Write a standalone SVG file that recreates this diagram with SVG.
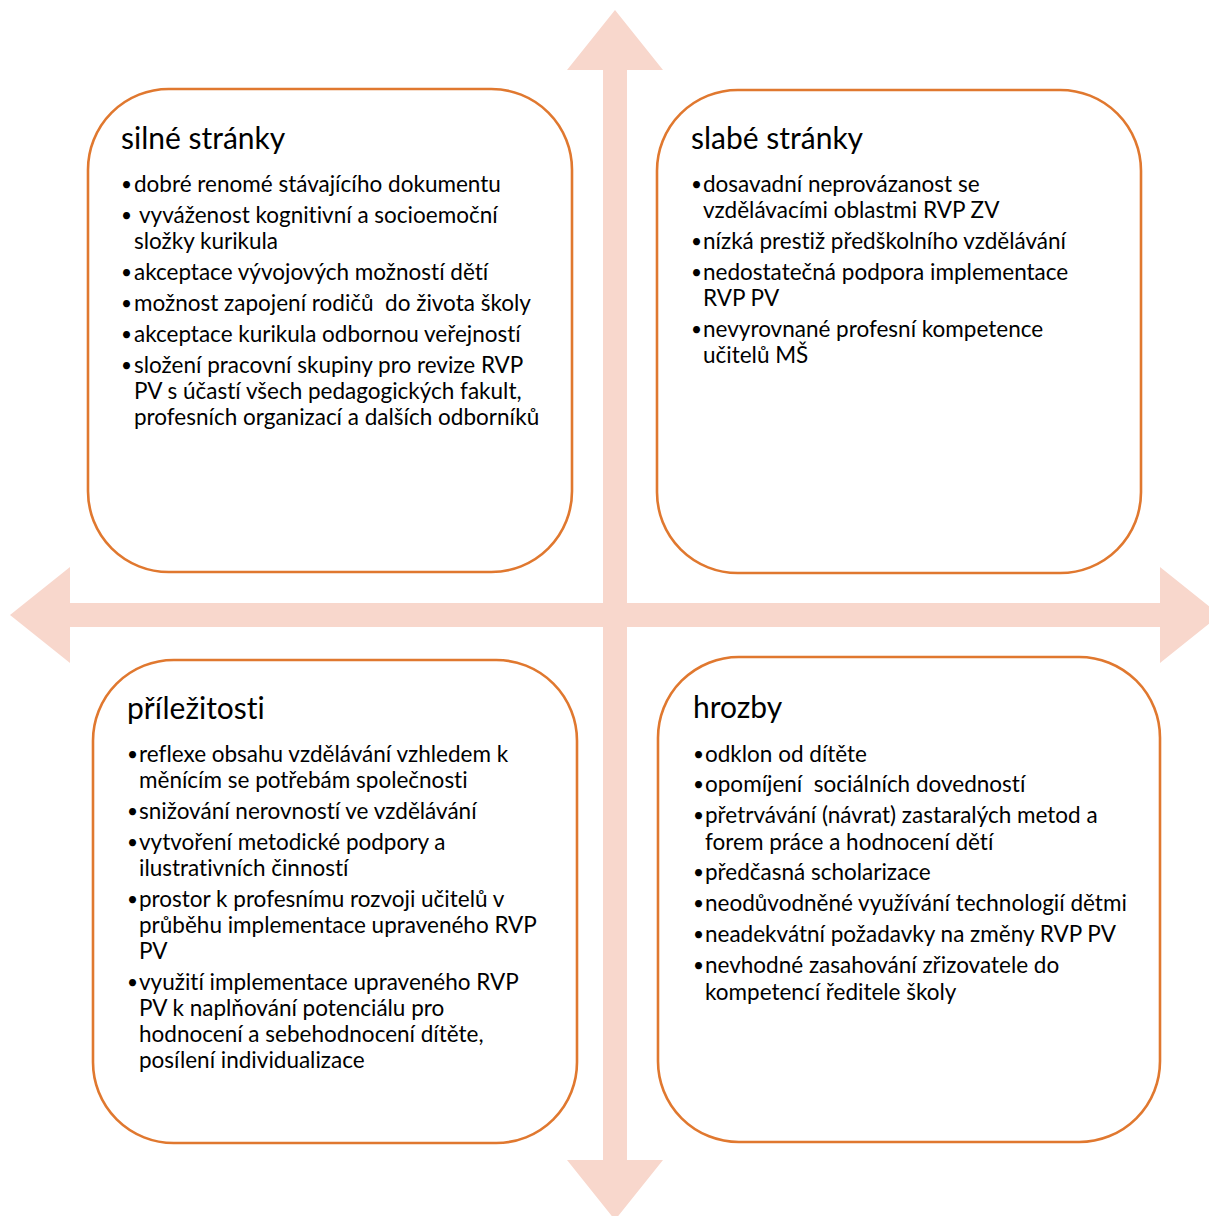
<svg xmlns="http://www.w3.org/2000/svg" width="1209" height="1216" viewBox="0 0 1209 1216">
  <style>
    .box { fill: #ffffff; stroke: #E0782F; stroke-width: 2.6; }
    .axes { fill: #F8D7CC; stroke: none; }
    text { font-family: Lato, "Liberation Sans", sans-serif; fill: #000000; font-variant-ligatures: none; font-feature-settings: "liga" 0, "clig" 0, "dlig" 0; }
    .title { font-size: 30px; }
    .item { font-size: 22.5px; }
    .dot { font-size: 19px; }
  </style>

  <!-- four-way arrow cross behind the quadrants -->
  <g id="axes">
    <polygon class="axes" points="615,10 663,70 627,70 627,603 1160,603 1160,567 1220,615 1160,663 1160,627 627,627 627,1160 663,1160 615,1220 567,1160 603,1160 603,627 70,627 70,663 10,615 70,567 70,603 603,603 603,70 567,70"/>
  </g>

  <!-- strengths -->
  <g id="strengths">
    <rect class="box" x="88" y="89" width="484" height="483" rx="80.7" ry="80.7"/>
    <text class="title" x="121" y="149">silné stránky</text>
    <g class="item">
      <text class="dot" x="121" y="191">•</text><text x="134" y="192">dobré renomé stávajícího dokumentu</text>
      <text class="dot" x="121" y="222">•</text><text x="139" y="223">vyváženost kognitivní a socioemoční</text>
      <text x="134" y="249">složky kurikula</text>
      <text class="dot" x="121" y="279">•</text><text x="134" y="280">akceptace vývojových možností dětí</text>
      <text class="dot" x="121" y="310">•</text><text x="134" y="311" xml:space="preserve">možnost zapojení rodičů  do života školy</text>
      <text class="dot" x="121" y="341">•</text><text x="134" y="342">akceptace kurikula odbornou veřejností</text>
      <text class="dot" x="121" y="372">•</text><text x="134" y="373">složení pracovní skupiny pro revize RVP</text>
      <text x="134" y="399">PV s účastí všech pedagogických fakult,</text>
      <text x="134" y="425">profesních organizací a dalších odborníků</text>
    </g>
  </g>

  <!-- weaknesses -->
  <g id="weaknesses">
    <rect class="box" x="657" y="90" width="484" height="483" rx="80.7" ry="80.7"/>
    <text class="title" x="691" y="149">slabé stránky</text>
    <g class="item">
      <text class="dot" x="691" y="191">•</text><text x="703" y="192">dosavadní neprovázanost se</text>
      <text x="703" y="218">vzdělávacími oblastmi RVP ZV</text>
      <text class="dot" x="691" y="248">•</text><text x="703" y="249">nízká prestiž předškolního vzdělávání</text>
      <text class="dot" x="691" y="279">•</text><text x="703" y="280">nedostatečná podpora implementace</text>
      <text x="703" y="306">RVP PV</text>
      <text class="dot" x="691" y="336">•</text><text x="703" y="337">nevyrovnané profesní kompetence</text>
      <text x="703" y="363">učitelů MŠ</text>
    </g>
  </g>

  <!-- opportunities -->
  <g id="opportunities">
    <rect class="box" x="93" y="660" width="484" height="483" rx="80.7" ry="80.7"/>
    <text class="title" x="127" y="719">příležitosti</text>
    <g class="item">
      <text class="dot" x="127" y="761">•</text><text x="139" y="762">reflexe obsahu vzdělávání vzhledem k</text>
      <text x="139" y="788">měnícím se potřebám společnosti</text>
      <text class="dot" x="127" y="818">•</text><text x="139" y="819">snižování nerovností ve vzdělávání</text>
      <text class="dot" x="127" y="849">•</text><text x="139" y="850">vytvoření metodické podpory a</text>
      <text x="139" y="876">ilustrativních činností</text>
      <text class="dot" x="127" y="906">•</text><text x="139" y="907">prostor k profesnímu rozvoji učitelů v</text>
      <text x="139" y="933">průběhu implementace upraveného RVP</text>
      <text x="139" y="959">PV</text>
      <text class="dot" x="127" y="989">•</text><text x="139" y="990">využití implementace upraveného RVP</text>
      <text x="139" y="1016">PV k naplňování potenciálu pro</text>
      <text x="139" y="1042">hodnocení a sebehodnocení dítěte,</text>
      <text x="139" y="1068">posílení individualizace</text>
    </g>
  </g>

  <!-- threats -->
  <g id="threats">
    <rect class="box" x="658" y="657" width="502" height="485" rx="80.8" ry="80.8"/>
    <text class="title" x="693" y="718">hrozby</text>
    <g class="item">
      <text class="dot" x="693" y="761">•</text><text x="705" y="762">odklon od dítěte</text>
      <text class="dot" x="693" y="791">•</text><text x="705" y="792" xml:space="preserve">opomíjení  sociálních dovedností</text>
      <text class="dot" x="693" y="822">•</text><text x="705" y="823">přetrvávání (návrat) zastaralých metod a</text>
      <text x="705" y="850">forem práce a hodnocení dětí</text>
      <text class="dot" x="693" y="879">•</text><text x="705" y="880">předčasná scholarizace</text>
      <text class="dot" x="693" y="910">•</text><text x="705" y="911">neodůvodněné využívání technologií dětmi</text>
      <text class="dot" x="693" y="941">•</text><text x="705" y="942">neadekvátní požadavky na změny RVP PV</text>
      <text class="dot" x="693" y="972">•</text><text x="705" y="973">nevhodné zasahování zřizovatele do</text>
      <text x="705" y="1000">kompetencí ředitele školy</text>
    </g>
  </g>
</svg>
